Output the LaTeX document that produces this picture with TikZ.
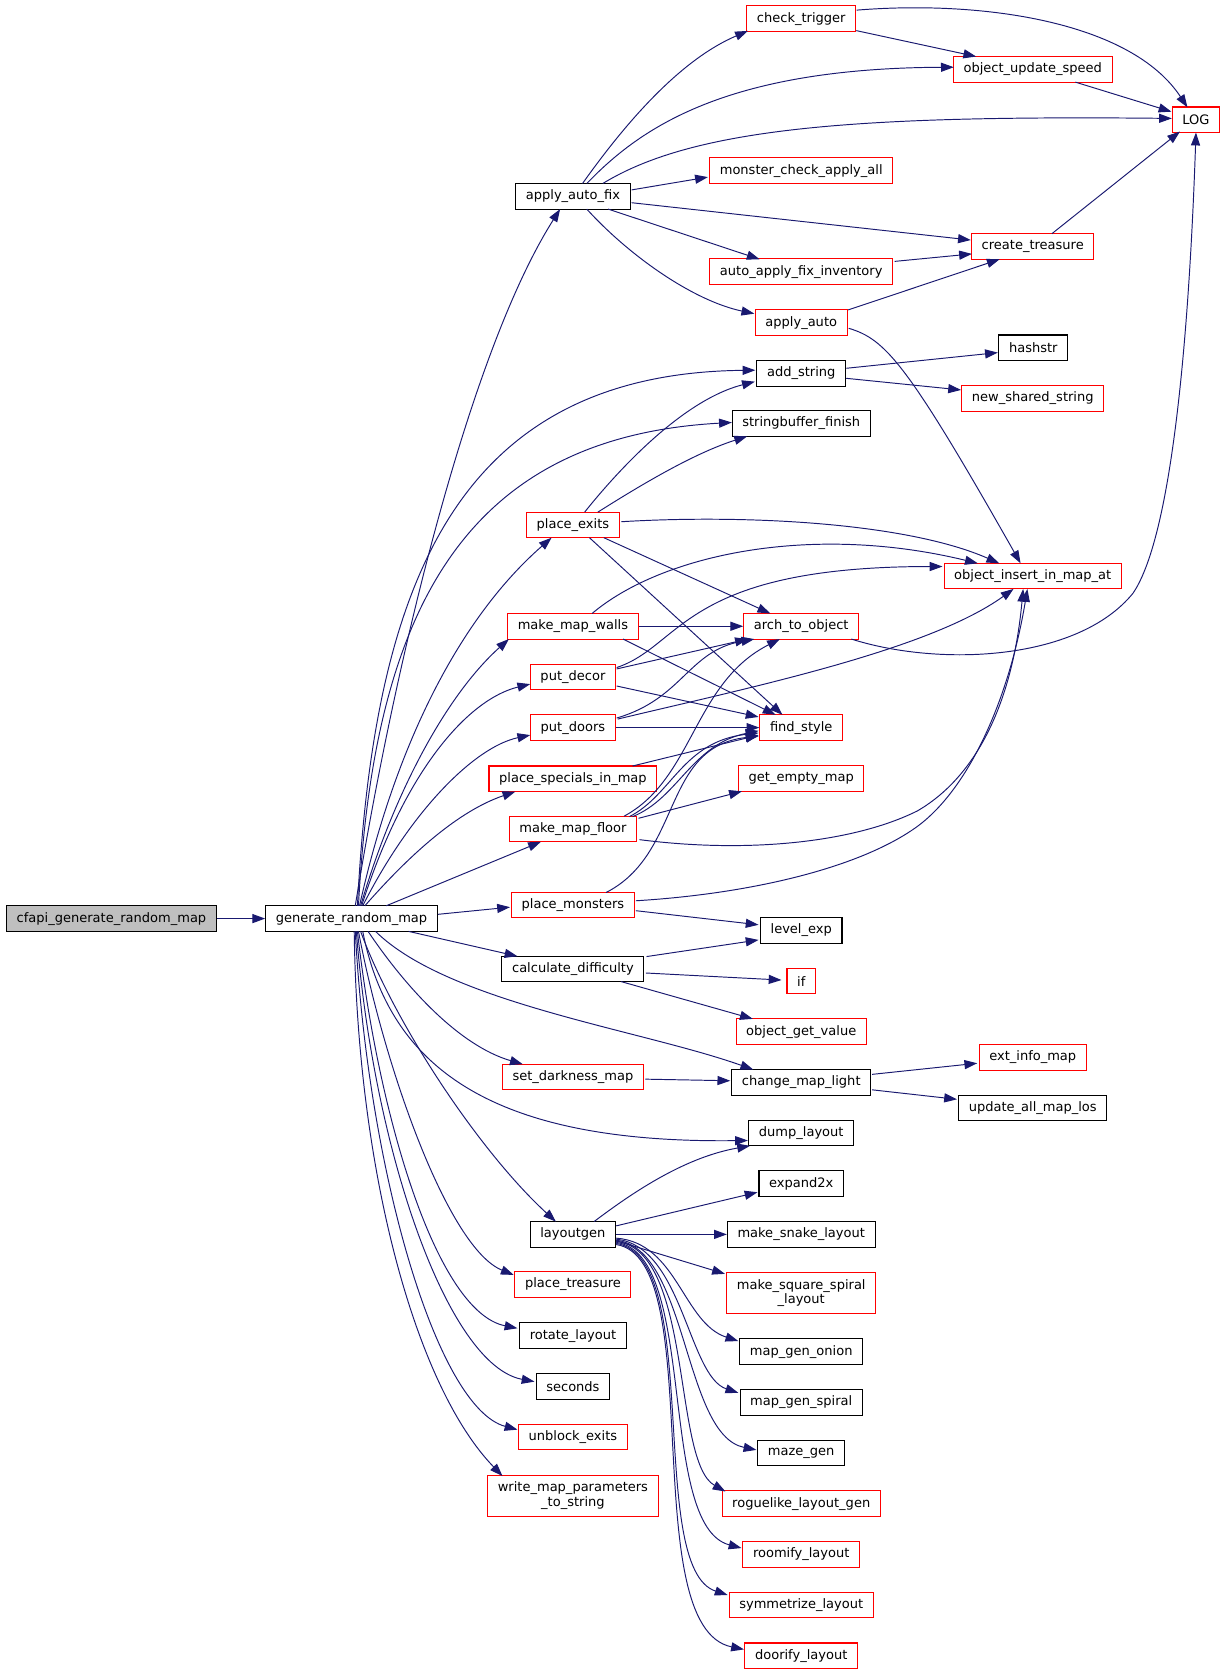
\documentclass[tikz,border=0pt]{standalone}
\usepackage{fontspec}
\setmainfont{DejaVu Sans}
\usetikzlibrary{arrows.meta}
\definecolor{edgeblue}{HTML}{191970}
\definecolor{nodegray}{HTML}{BFBFBF}
\begin{document}
\begin{tikzpicture}[x=1pt,y=-1pt,
  box/.style={draw=black, line width=1pt, fill=white, font=\fontsize{12.2}{14}\selectfont, inner xsep=9.5pt, inner ysep=0pt, minimum height=24pt, anchor=center},
  redbox/.style={box, draw=red},
  graybox/.style={box, fill=nodegray},
  twoline/.style={align=center, minimum height=38pt},
  e/.style={draw=edgeblue, line width=0.9pt, -{Triangle[length=12pt,width=8.5pt]}}]
\fill[white] (0,0) rectangle (1150,1570);
\useasboundingbox (0,0) rectangle (1150,1570);

% nodes
\node[graybox] (cfapi) at (104.5,861) {cfapi\_generate\_random\_map};
\node[box] (gen) at (329.5,861) {generate\_random\_map};
\node[box] (aaf) at (537,184) {apply\_auto\_fix};
\node[redbox] (ct) at (751,17.5) {check\_trigger};
\node[redbox] (ous) at (968,65) {object\_update\_speed};
\node[redbox] (log) at (1121,112.3) {LOG};
\node[redbox] (mcaa) at (751,160) {monster\_check\_apply\_all};
\node[redbox] (ctr) at (968,231) {create\_treasure};
\node[redbox] (aafi) at (751,254.6) {auto\_apply\_fix\_inventory};
\node[redbox] (aa) at (751,302.4) {apply\_auto};
\node[box] (hs) at (968.5,326) {hashstr};
\node[box] (as) at (751,350) {add\_string};
\node[redbox] (nss) at (968,373.5) {new\_shared\_string};
\node[box] (sbf) at (751,397) {stringbuffer\_finish};
\node[redbox] (pe) at (537,492) {place\_exits};
\node[redbox] (oima) at (968,540) {object\_insert\_in\_map\_at};
\node[redbox] (mmw) at (537,587) {make\_map\_walls};
\node[redbox] (ato) at (751,587) {arch\_to\_object};
\node[redbox] (pd) at (537,634.7) {put\_decor};
\node[redbox] (pdo) at (537,682) {put\_doors};
\node[redbox] (fs) at (751,682) {find\_style};
\node[redbox] (psim) at (537,730) {place\_specials\_in\_map};
\node[redbox] (gem) at (751,729.7) {get\_empty\_map};
\node[redbox] (mmf) at (537,777) {make\_map\_floor};
\node[redbox] (pm) at (537,848.3) {place\_monsters};
\node[box] (le) at (751,872) {level\_exp};
\node[box] (cd) at (537,908.3) {calculate\_difficulty};
\node[redbox] (iff) at (751,919.6) {if};
\node[redbox] (ogv) at (751,967) {object\_get\_value};
\node[redbox] (eim) at (968,991) {ext\_info\_map};
\node[redbox] (sdm) at (537,1009.5) {set\_darkness\_map};
\node[box] (cml) at (751,1014.5) {change\_map\_light};
\node[box] (uaml) at (968,1038.4) {update\_all\_map\_los};
\node[box] (dl) at (751,1062) {dump\_layout};
\node[box] (e2x) at (751,1109.5) {expand2x};
\node[box] (lg) at (537,1157) {layoutgen};
\node[box] (msl) at (751,1157) {make\_snake\_layout};
\node[redbox,twoline] (mssl) at (751,1212) {make\_square\_spiral\\\_layout};
\node[redbox] (pt) at (537,1204) {place\_treasure};
\node[box] (rl) at (537,1252) {rotate\_layout};
\node[box] (mgo) at (751,1267) {map\_gen\_onion};
\node[box] (sec) at (537,1299.4) {seconds};
\node[box] (mgs) at (751,1314.5) {map\_gen\_spiral};
\node[redbox] (ue) at (537,1347) {unblock\_exits};
\node[box] (mz) at (751,1362) {maze\_gen};
\node[redbox,twoline] (wmp) at (537,1402) {write\_map\_parameters\\\_to\_string};
\node[redbox] (rlg) at (751,1409.4) {roguelike\_layout\_gen};
\node[redbox] (rmf) at (751,1457) {roomify\_layout};
\node[redbox] (sym) at (751,1504.5) {symmetrize\_layout};
\node[redbox] (dor) at (751,1552) {doorify\_layout};

% cfapi -> gen
\draw[e] (cfapi.east) -- (gen.west);

% gen edges (upwards)
\draw[e] ([shift={(3.5,-12)}]gen.center) .. controls (370,620) and (440,330) .. ([shift={(-12,12)}]aaf.center);
\draw[e] ([shift={(5.5,-12)}]gen.center) .. controls (350,560) and (420,350) .. ([shift={(-43,-3)}]as.center);
\draw[e] ([shift={(6.5,-12)}]gen.center) .. controls (350,580) and (430,410) .. ([shift={(-65,-1)}]sbf.center);
\draw[e] ([shift={(7.5,-12)}]gen.center) .. controls (370,700) and (430,580) .. ([shift={(-20,12)}]pe.center);
\draw[e] ([shift={(8.5,-12)}]gen.center) .. controls (370,740) and (420,650) .. ([shift={(-60,12)}]mmw.center);
\draw[e] ([shift={(9.5,-12)}]gen.center) .. controls (380,720) and (440,655) .. ([shift={(-40,6.5)}]pd.center);
\draw[e] ([shift={(10.5,-12)}]gen.center) .. controls (385,760) and (445,700) .. ([shift={(-40,7)}]pdo.center);
\draw[e] ([shift={(12.5,-12)}]gen.center) .. controls (385,800) and (430,760) .. ([shift={(-54,12)}]psim.center);
\draw[e] ([shift={(32.5,-12)}]gen.center) -- ([shift={(-30,12)}]mmf.center);
\draw[e] ([shift={(81,-4)}]gen.center) -- ([shift={(-59,2)}]pm.center);
% gen edges (downwards)
\draw[e] ([shift={(53.5,12)}]gen.center) -- ([shift={(-52,-12)}]cd.center);
\draw[e] ([shift={(22.5,12)}]gen.center) .. controls (420,940) and (600,965) .. ([shift={(-45,-12)}]cml.center);
\draw[e] ([shift={(15.5,12)}]gen.center) .. controls (380,925) and (430,980) .. ([shift={(-47,-12)}]sdm.center);
\draw[e] ([shift={(10.5,12)}]gen.center) .. controls (365,1000) and (460,1072) .. ([shift={(-50,7)}]dl.center);
\draw[e] ([shift={(8.5,12)}]gen.center) .. controls (370,960) and (450,1080) .. ([shift={(-16,-12)}]lg.center);
\draw[e] ([shift={(6.5,12)}]gen.center) .. controls (360,1000) and (420,1170) .. ([shift={(-55.5,-9)}]pt.center);
\draw[e] ([shift={(5.5,12)}]gen.center) .. controls (355,1050) and (410,1230) .. ([shift={(-52,-7)}]rl.center);
\draw[e] ([shift={(4.5,12)}]gen.center) .. controls (350,1080) and (420,1280) .. ([shift={(-36,-4.4)}]sec.center);
\draw[e] ([shift={(3.5,12)}]gen.center) .. controls (345,1100) and (410,1320) .. ([shift={(-52,-7)}]ue.center);
\draw[e] ([shift={(2.5,12)}]gen.center) .. controls (335,1100) and (390,1300) .. ([shift={(-66,-18.5)}]wmp.center);

% apply_auto_fix edges
\draw[e] ([shift={(9,-12)}]aaf.center) .. controls (590,110) and (640,55) .. ([shift={(-50,11.5)}]ct.center);
\draw[e] ([shift={(13,-12)}]aaf.center) .. controls (600,120) and (680,64) .. ([shift={(-74,-2)}]ous.center);
\draw[e] ([shift={(28,-12)}]aaf.center) .. controls (650,120) and (800,108) .. ([shift={(-22.6,-1.3)}]log.center);
\draw[e] ([shift={(55,-6)}]aaf.center) -- ([shift={(-87.5,6)}]mcaa.center);
\draw[e] ([shift={(55,6)}]aaf.center) -- ([shift={(-58,-6)}]ctr.center);
\draw[e] ([shift={(33,12)}]aaf.center) -- ([shift={(-39,-11.6)}]aafi.center);
\draw[e] ([shift={(13,12)}]aaf.center) .. controls (590,240) and (650,282) .. ([shift={(-44,-8.4)}]aa.center);

% check_trigger, object_update_speed, create_treasure
\draw[e] ([shift={(51.6,11.2)}]ct.center) -- ([shift={(-53,-12)}]ous.center);
\draw[e] ([shift={(52,-8)}]ct.center) .. controls (920,0) and (1060,20) .. ([shift={(-8,-11.7)}]log.center);
\draw[e] ([shift={(40,12)}]ous.center) -- ([shift={(-23,-7.6)}]log.center);
\draw[e] ([shift={(18,-12)}]ctr.center) -- ([shift={(-15,11)}]log.center);
\draw[e] ([shift={(87.6,-9.6)}]aafi.center) -- ([shift={(-57,7)}]ctr.center);
\draw[e] ([shift={(44,-11.9)}]aa.center) -- ([shift={(-31,12)}]ctr.center);
\draw[e] ([shift={(44.5,5.3)}]aa.center) .. controls (830,318) and (850,340) .. ([shift={(-11.4,-12)}]oima.center);

% add_string
\draw[e] ([shift={(42.2,-4.8)}]as.center) -- ([shift={(-33.2,4.5)}]hs.center);
\draw[e] ([shift={(42.2,4.6)}]as.center) -- ([shift={(-67.2,-8)}]nss.center);

% place_exits
\draw[e] ([shift={(11,-12)}]pe.center) .. controls (580,440) and (640,375) .. ([shift={(-43.5,7.7)}]as.center);
\draw[e] ([shift={(23.4,-12)}]pe.center) .. controls (600,455) and (650,425) .. ([shift={(-50.7,12)}]sbf.center);
\draw[e] ([shift={(45.5,-3)}]pe.center) .. controls (700,482) and (850,490) .. ([shift={(-31.4,-12)}]oima.center);
\draw[e] ([shift={(29,12)}]pe.center) -- ([shift={(-29,-12)}]ato.center);
\draw[e] ([shift={(15.5,12)}]pe.center) -- ([shift={(-17.6,-12)}]fs.center);

% make_map_walls
\draw[e] ([shift={(18,-12)}]mmw.center) .. controls (620,520) and (760,490) .. ([shift={(-51.5,-12)}]oima.center);
\draw[e] (mmw.east) -- (ato.west);
\draw[e] ([shift={(47,12)}]mmw.center) -- ([shift={(-24,-12)}]fs.center);

% put_decor
\draw[e] ([shift={(41,-9)}]pd.center) .. controls (640,605) and (640,531) .. ([shift={(-84.6,-9)}]oima.center);
\draw[e] ([shift={(41,-7.7)}]pd.center) -- ([shift={(-50,12)}]ato.center);
\draw[e] ([shift={(41,8.3)}]pd.center) -- ([shift={(-40,-10)}]fs.center);

% put_doors
\draw[e] ([shift={(41,-9)}]pdo.center) .. controls (640,655) and (645,610) .. ([shift={(-44,12)}]ato.center);
\draw[e] ([shift={(42,-8)}]pdo.center) .. controls (700,645) and (870,610) .. ([shift={(-18,12)}]oima.center);
\draw[e] (pdo.east) -- (fs.west);

% place_specials_in_map
\draw[e] ([shift={(55.8,-12)}]psim.center) -- ([shift={(-40,7)}]fs.center);

% make_map_floor
\draw[e] ([shift={(53,-11.6)}]mmf.center) .. controls (630,745) and (640,695) .. ([shift={(-40,5)}]fs.center);
\draw[e] ([shift={(56,-11.6)}]mmf.center) .. controls (636,748) and (648,698) .. ([shift={(-40,3)}]fs.center);
\draw[e] ([shift={(48,-12)}]mmf.center) .. controls (650,730) and (650,640) .. ([shift={(-20,12)}]ato.center);
\draw[e] ([shift={(61.5,-10)}]mmf.center) -- ([shift={(-55.6,12)}]gem.center);
\draw[e] ([shift={(62.4,10)}]mmf.center) .. controls (700,800) and (800,790) .. (860,760) .. controls (920,725) and (950,650) .. ([shift={(-9,12)}]oima.center);

% place_monsters
\draw[e] ([shift={(31,-11.7)}]pm.center) .. controls (640,800) and (620,700) .. ([shift={(-40,8)}]fs.center);
\draw[e] ([shift={(59,-4)}]pm.center) .. controls (700,838) and (800,815) .. (855,778) .. controls (905,745) and (945,660) .. ([shift={(-5,12)}]oima.center);
\draw[e] ([shift={(59,5.3)}]pm.center) -- ([shift={(-40,-5.2)}]le.center);

% calculate_difficulty
\draw[e] ([shift={(69,-11.7)}]cd.center) -- ([shift={(-40,9)}]le.center);
\draw[e] ([shift={(68.3,3.7)}]cd.center) -- ([shift={(-18.5,-1)}]iff.center);
\draw[e] ([shift={(45,11.7)}]cd.center) -- ([shift={(-45.4,-12)}]ogv.center);

% set_darkness_map, change_map_light
\draw[e] ([shift={(67.8,2)}]sdm.center) -- ([shift={(-66.5,-1.5)}]cml.center);
\draw[e] ([shift={(66.5,-7.5)}]cml.center) -- ([shift={(-52,5.6)}]eim.center);
\draw[e] ([shift={(66.5,7)}]cml.center) -- ([shift={(-71,-8)}]uaml.center);

% layoutgen
\draw[e] ([shift={(19.8,-12)}]lg.center) .. controls (590,1120) and (640,1085) .. ([shift={(-48,12)}]dl.center);
\draw[e] ([shift={(40.6,-8)}]lg.center) -- ([shift={(-41,8)}]e2x.center);
\draw[e] (lg.east) -- (msl.west);
\draw[e] ([shift={(40.6,6)}]lg.center) -- ([shift={(-71.5,-18)}]mssl.center);
\draw[e] ([shift={(40.6,3.5)}]lg.center) .. controls (635,1165) and (640,1240) .. ([shift={(-59,-10)}]mgo.center);
\draw[e] ([shift={(40.6,4.5)}]lg.center) .. controls (640,1168) and (645,1290) .. ([shift={(-59,-9)}]mgs.center);
\draw[e] ([shift={(40.6,5.5)}]lg.center) .. controls (645,1170) and (640,1345) .. ([shift={(-42,-3)}]mz.center);
\draw[e] ([shift={(40.6,6.5)}]lg.center) .. controls (650,1172) and (630,1370) .. ([shift={(-71,-11.4)}]rlg.center);
\draw[e] ([shift={(40.6,7.5)}]lg.center) .. controls (655,1175) and (615,1430) .. ([shift={(-56,-6)}]rmf.center);
\draw[e] ([shift={(40.6,8.5)}]lg.center) .. controls (660,1178) and (605,1470) .. ([shift={(-69,-9.5)}]sym.center);
\draw[e] ([shift={(40.6,9.5)}]lg.center) .. controls (665,1180) and (595,1525) .. ([shift={(-53.7,-6)}]dor.center);

% arch_to_object -> LOG
\draw[e] ([shift={(47,12)}]ato.center) .. controls (880,625) and (1010,620) .. (1062,556) .. controls (1100,500) and (1115,300) .. ([shift={(0,12)}]log.center);
\end{tikzpicture}
\end{document}
